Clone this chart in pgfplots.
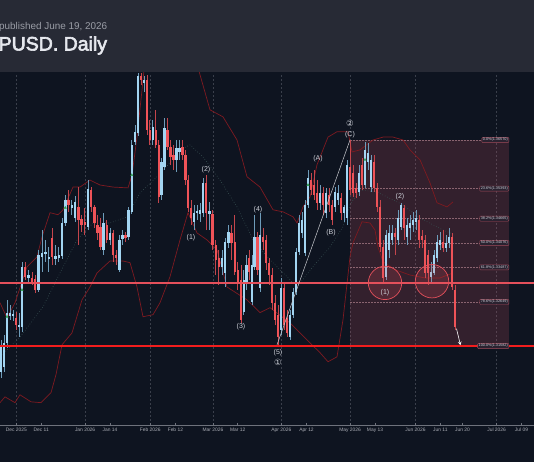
\documentclass[border=0pt]{standalone}
\usepackage{pgfplots}
\pgfplotsset{compat=1.18}
\usepackage{pgfplotstable}
\usepackage{fontspec}
\setmainfont{Liberation Sans}
\newfontfamily\titlefont[FakeBold=3]{Liberation Sans}
\newfontfamily\symfont{DejaVu Sans}

\definecolor{chartbg}{HTML}{0E1420}
\definecolor{headbg}{HTML}{272A35}
\definecolor{gridc}{HTML}{3A3F4B}
\definecolor{axisc}{HTML}{6E727C}
\definecolor{ticktxt}{HTML}{A9ACB4}
\definecolor{bullc}{HTML}{A3D5F2}
\definecolor{bullw}{HTML}{6E9CBA}
\definecolor{bearc}{HTML}{EF5358}
\definecolor{bearw}{HTML}{C4454C}
\definecolor{bandc}{HTML}{7E1A20}
\definecolor{midc}{HTML}{3A5555}
\definecolor{lineA}{HTML}{E4505B}
\definecolor{lineB}{HTML}{F21D1D}
\definecolor{fibc}{HTML}{C85064}
\definecolor{fibline}{HTML}{8A6470}
\definecolor{fibbox}{HTML}{2A2230}
\definecolor{fibedge}{HTML}{A04A5A}
\definecolor{lbl}{HTML}{CDD0D8}
\definecolor{subtxt}{HTML}{9A9DA6}
\definecolor{titletxt}{HTML}{E6E8EE}
\definecolor{greenm}{HTML}{2E9E4F}
\definecolor{abcc}{HTML}{C8CACF}

\pgfplotstableread{
x o h l c
1 1.3096 1.3173 1.3081 1.3161
4 1.3108 1.3185 1.3096 1.3166
7 1.3166 1.3270 1.3154 1.3239
10 1.3231 1.3258 1.3222 1.3239
13 1.3231 1.3246 1.3219 1.3236
19 1.3205 1.3239 1.3180 1.3209
22 1.3205 1.3362 1.3192 1.3350
28.7 1.3323 1.3343 1.3314 1.3330
38.7 1.3294 1.3391 1.3289 1.3379
42 1.3374 1.3439 1.3338 1.3384
45.3 1.3381 1.3415 1.3362 1.3386
48.7 1.3369 1.3398 1.3338 1.3374
55.3 1.3369 1.3403 1.3355 1.3376
58.7 1.3372 1.3398 1.3362 1.3379
62 1.3376 1.3468 1.3369 1.3456
65.3 1.3456 1.3524 1.3449 1.3512
71.8 1.3493 1.3512 1.3476 1.3500
75 1.3468 1.3522 1.3459 1.3507
88 1.3447 1.3560 1.3439 1.3539
103.6 1.3391 1.3481 1.3379 1.3456
109.9 1.3415 1.3444 1.3403 1.3432
119.3 1.3343 1.3427 1.3338 1.3415
122.4 1.3418 1.3439 1.3403 1.3427
128.6 1.3422 1.3495 1.3415 1.3488
131.8 1.3483 1.3657 1.3478 1.3645
134.9 1.3652 1.3693 1.3645 1.3677
138 1.3674 1.3819 1.3667 1.3812
143.9 1.3795 1.3812 1.3773 1.3802
152.8 1.3657 1.3705 1.3645 1.3689
161.6 1.3524 1.3614 1.3512 1.3604
164.6 1.3592 1.3710 1.3585 1.3686
176.4 1.3609 1.3657 1.3580 1.3638
179.4 1.3628 1.3657 1.3609 1.3638
194.2 1.3459 1.3500 1.3439 1.3481
197.1 1.3481 1.3500 1.3464 1.3485
200.1 1.3478 1.3505 1.3459 1.3488
203 1.3481 1.3565 1.3471 1.3553
209.3 1.3478 1.3507 1.3439 1.3485
222 1.3350 1.3391 1.3330 1.3372
225.2 1.3335 1.3420 1.3301 1.3410
228.3 1.3408 1.3451 1.3396 1.3434
243.7 1.3241 1.3343 1.3234 1.3318
246.4 1.3314 1.3379 1.3294 1.3355
251.9 1.3265 1.3379 1.3258 1.3355
254.6 1.3350 1.3476 1.3343 1.3422
260 1.3299 1.3481 1.3289 1.3427
281 1.3197 1.3323 1.3185 1.3299
290 1.3180 1.3246 1.3173 1.3234
293 1.3234 1.3299 1.3226 1.3289
296 1.3289 1.3396 1.3282 1.3386
299 1.3386 1.3476 1.3379 1.3456
302 1.3432 1.3483 1.3420 1.3464
305 1.3384 1.3512 1.3376 1.3500
308 1.3500 1.3585 1.3493 1.3565
320 1.3505 1.3548 1.3488 1.3529
326 1.3481 1.3541 1.3468 1.3529
335 1.3495 1.3543 1.3483 1.3531
338 1.3512 1.3548 1.3500 1.3529
344 1.3481 1.3500 1.3459 1.3495
347 1.3468 1.3609 1.3451 1.3597
359 1.3531 1.3597 1.3522 1.3577
365 1.3548 1.3652 1.3541 1.3633
368 1.3604 1.3650 1.3585 1.3626
371 1.3543 1.3621 1.3531 1.3609
386 1.3326 1.3439 1.3318 1.3427
389 1.3391 1.3451 1.3372 1.3432
392 1.3415 1.3451 1.3403 1.3432
398 1.3415 1.3488 1.3403 1.3468
401 1.3447 1.3505 1.3439 1.3500
407 1.3422 1.3468 1.3403 1.3451
410 1.3444 1.3476 1.3415 1.3456
413 1.3451 1.3483 1.3434 1.3464
416 1.3459 1.3488 1.3439 1.3468
431 1.3326 1.3362 1.3311 1.3338
434 1.3335 1.3391 1.3330 1.3379
437 1.3372 1.3427 1.3362 1.3410
440 1.3403 1.3434 1.3391 1.3415
446 1.3396 1.3427 1.3386 1.3408
449 1.3408 1.3444 1.3396 1.3422
}\bulltab

\pgfplotstableread{
x o h l c
16 1.3226 1.3241 1.3197 1.3209
25.3 1.3350 1.3362 1.3318 1.3326
32 1.3323 1.3338 1.3306 1.3314
35.3 1.3320 1.3330 1.3287 1.3294
52 1.3420 1.3444 1.3355 1.3374
68.5 1.3512 1.3536 1.3483 1.3500
78.3 1.3495 1.3543 1.3403 1.3464
81.5 1.3466 1.3476 1.3434 1.3451
84.8 1.3459 1.3493 1.3427 1.3451
91.1 1.3536 1.3543 1.3483 1.3495
94.3 1.3495 1.3500 1.3444 1.3456
97.4 1.3451 1.3476 1.3415 1.3432
100.5 1.3447 1.3468 1.3391 1.3398
106.8 1.3451 1.3464 1.3408 1.3415
113 1.3432 1.3439 1.3362 1.3379
116.1 1.3379 1.3391 1.3355 1.3372
125.5 1.3427 1.3434 1.3410 1.3420
141 1.3812 1.3819 1.3790 1.3802
146.9 1.3802 1.3814 1.3669 1.3681
149.8 1.3681 1.3705 1.3645 1.3657
155.7 1.3681 1.3730 1.3638 1.3645
158.7 1.3645 1.3657 1.3505 1.3519
167.5 1.3681 1.3710 1.3633 1.3640
170.5 1.3640 1.3657 1.3597 1.3616
173.5 1.3621 1.3645 1.3585 1.3609
182.3 1.3640 1.3657 1.3609 1.3621
185.3 1.3621 1.3633 1.3548 1.3560
188.2 1.3560 1.3572 1.3483 1.3493
191.2 1.3493 1.3512 1.3451 1.3468
206.2 1.3553 1.3572 1.3439 1.3481
212.5 1.3478 1.3488 1.3391 1.3403
215.7 1.3403 1.3415 1.3330 1.3367
218.8 1.3372 1.3391 1.3306 1.3350
231.5 1.3432 1.3451 1.3367 1.3408
234.7 1.3410 1.3476 1.3330 1.3338
237.8 1.3343 1.3362 1.3294 1.3311
241 1.3318 1.3355 1.3214 1.3222
249.1 1.3372 1.3391 1.3318 1.3338
257.3 1.3422 1.3434 1.3330 1.3343
263 1.3422 1.3444 1.3391 1.3410
266 1.3415 1.3427 1.3343 1.3360
269 1.3360 1.3372 1.3306 1.3330
272 1.3330 1.3347 1.3246 1.3263
275 1.3263 1.3282 1.3209 1.3222
278 1.3234 1.3258 1.3161 1.3180
284 1.3299 1.3311 1.3197 1.3209
287 1.3226 1.3246 1.3180 1.3190
311 1.3560 1.3577 1.3524 1.3536
314 1.3548 1.3585 1.3512 1.3524
317 1.3529 1.3560 1.3488 1.3505
323 1.3529 1.3543 1.3476 1.3500
329 1.3524 1.3541 1.3483 1.3500
332 1.3500 1.3512 1.3451 1.3464
341 1.3517 1.3529 1.3464 1.3481
350 1.3592 1.3657 1.3524 1.3536
353 1.3577 1.3597 1.3519 1.3529
356 1.3541 1.3553 1.3517 1.3529
362 1.3597 1.3614 1.3536 1.3548
374 1.3604 1.3621 1.3531 1.3541
377 1.3541 1.3553 1.3483 1.3495
380 1.3495 1.3512 1.3386 1.3398
383 1.3398 1.3415 1.3314 1.3323
395 1.3432 1.3444 1.3379 1.3422
404 1.3493 1.3500 1.3415 1.3444
419 1.3464 1.3476 1.3396 1.3415
422 1.3425 1.3439 1.3396 1.3415
425 1.3415 1.3427 1.3323 1.3335
428 1.3379 1.3391 1.3306 1.3335
443 1.3410 1.3439 1.3386 1.3396
452 1.3422 1.3432 1.3294 1.3301
455 1.3294 1.3306 1.3197 1.3205
}\beartab

\pgfplotstableread{
x p
0 1.3263
7 1.3226
15 1.3263
27 1.3350
37 1.3374
42 1.3422
50 1.3481
58 1.3476
63 1.3488
73 1.3543
80 1.3543
90 1.3560
100 1.3548
113 1.3543
128 1.3541
132 1.3572
137 1.3664
142 1.3778
146 1.3875
160 1.3923
178 1.3928
192 1.3887
200 1.3815
210 1.3730
223 1.3713
237 1.3657
247 1.3568
260 1.3543
273 1.3488
283 1.3483
293 1.3471
297 1.3456
303 1.3495
310 1.3519
317 1.3597
328 1.3664
337 1.3677
348 1.3677
352 1.3628
360 1.3633
373 1.3657
383 1.3664
393 1.3664
403 1.3657
410 1.3633
420 1.3609
430 1.3553
437 1.3505
447 1.3495
453 1.3507
}\bbup

\pgfplotstableread{
x p
0 1.3132
20 1.3180
43 1.3253
60 1.3335
77 1.3415
93 1.3456
110 1.3456
127 1.3471
140 1.3529
157 1.3568
170 1.3602
180 1.3633
190 1.3645
203 1.3616
220 1.3560
237 1.3495
253 1.3415
270 1.3367
287 1.3326
297 1.3301
313 1.3350
330 1.3398
343 1.3447
350 1.3500
360 1.3536
377 1.3531
403 1.3500
420 1.3468
443 1.3439
455 1.3427
}\bbmid

\pgfplotstableread{
x p
0 1.3021
5 1.3035
15 1.3021
20 1.3040
31 1.3023
41 1.3021
51 1.3045
56 1.3089
62 1.3161
72 1.3190
82 1.3270
90 1.3301
97 1.3335
110 1.3364
123 1.3364
130 1.3360
137 1.3301
143 1.3229
153 1.3234
160 1.3263
170 1.3326
180 1.3415
188 1.3481
197 1.3432
207 1.3415
217 1.3391
227 1.3301
247 1.3270
260 1.3239
270 1.3251
290 1.3214
307 1.3173
320 1.3142
328 1.3120
337 1.3132
343 1.3222
350 1.3374
353 1.3408
362 1.3459
370 1.3456
375 1.3439
378 1.3398
383 1.3362
395 1.3343
410 1.3330
425 1.3323
440 1.3323
453 1.3335
}\bblow

\begin{document}
\begin{tikzpicture}[x=1pt,y=1pt]
\useasboundingbox (0pt,0pt) rectangle (534pt,462pt);
\fill[chartbg] (0pt,0pt) rectangle (534pt,462pt);
\fill[headbg] (0pt,389.6pt) rectangle (534pt,462pt);
\node[anchor=base west, inner sep=0, font=\fontsize{9.9}{11}\selectfont, text=subtxt] at (-1pt,432.5pt) {published June 19, 2026};
\node[anchor=base west, inner sep=0, font=\titlefont\fontsize{19.5}{22}\selectfont, text=titletxt] at (-1.5pt,411.5pt) {PUSD. Daily};
\begin{axis}[
  at={(0pt,37pt)}, anchor=south west,
  scale only axis, width=534pt, height=352pt,
  xmin=0, xmax=534, ymin=1.29669, ymax=1.38192,
  enlargelimits=false,
  axis x line*=bottom, axis y line=none, ytick=\empty,
  x axis line style={draw=axisc, line width=0.8pt, -},
  xtick={41.2,110,175.4,237.7,306.5,375,440.4,462.5,521.5},
  xticklabels={Dec 11,Jan 14,Feb 12,Mar 12,Apr 12,May 13,Jun 11,Jun 20,Jul 09},
  extra x ticks={16.3,85.1,150.2,212.9,281.3,350.1,415.5,496.6},
  extra x tick labels={Dec 2025,Jan 2026,Feb 2026,Mar 2026,Apr 2026,May 2026,Jun 2026,Jul 2026},
  extra x tick style={grid=major},
  grid style={dash pattern=on 2pt off 2pt, draw=gridc, line width=0.6pt},
  tick align=inside, major tick length=2pt,
  tick style={draw=axisc, line width=0.6pt},
  xticklabel style={font=\fontsize{4.9}{5.5}\selectfont, text=ticktxt, inner sep=0pt, yshift=-3pt},
  clip=true,
]
% Fibonacci box
\fill[fibc, fill opacity=0.2] (axis cs:350,1.36570) rectangle (axis cs:509,1.31582);
\foreach \lv in {1.36570,1.35393,1.34665,1.34076,1.33487,1.32649}{
  \edef\tmp{\noexpand\draw[fibline, line width=0.5pt, dash pattern=on 1.5pt off 1.5pt] (axis cs:350,\lv) -- (axis cs:509,\lv);}\tmp
}
% Bollinger bands
\addplot[bandc, line width=0.7pt] table[x=x,y=p] {\bbup};
\addplot[bandc, line width=0.7pt] table[x=x,y=p] {\bblow};
\addplot[midc, line width=0.6pt, dotted] table[x=x,y=p] {\bbmid};
% candles: wicks
\addplot[forget plot, draw=none, mark=none, error bars/.cd, y dir=plus, y explicit, error mark=none,
  error bar style={draw=bullw, line width=0.7pt}]
  table[x=x, y=l, y error plus expr={\thisrow{h}-\thisrow{l}}] {\bulltab};
\addplot[forget plot, draw=none, mark=none, error bars/.cd, y dir=plus, y explicit, error mark=none,
  error bar style={draw=bearw, line width=0.7pt}]
  table[x=x, y=l, y error plus expr={\thisrow{h}-\thisrow{l}}] {\beartab};
% candles: bodies
\addplot[forget plot, draw=none, mark=none, error bars/.cd, y dir=plus, y explicit, error mark=none,
  error bar style={draw=bullc, line width=2.4pt}]
  table[x=x, y=o, y error plus expr={\thisrow{c}-\thisrow{o}}] {\bulltab};
\addplot[forget plot, draw=none, mark=none, error bars/.cd, y dir=plus, y explicit, error mark=none,
  error bar style={draw=bearc, line width=2.4pt}]
  table[x=x, y=c, y error plus expr={\thisrow{o}-\thisrow{c}}] {\beartab};
% green signal marks
\addplot[only marks, mark=triangle*, mark size=1.3pt, color=greenm] coordinates {(7,1.3229) (22,1.3294) (65.3,1.3493) (131.8,1.3572) (308,1.3548) (365,1.3609)};
% horizontal levels
\addplot[lineA, line width=1.6pt] coordinates {(0,1.3311) (534,1.3311)};
\addplot[lineB, line width=1.4pt] coordinates {(0,1.31582) (534,1.31582)};
% ABC line and arrow
\addplot[abcc, line width=0.5pt] coordinates {(277,1.3161) (350,1.3657)};
\addplot[white, line width=0.6pt, -stealth] coordinates {(456.5,1.3200) (460.5,1.3160)};
% circles
\draw[lineA, fill=lineA, fill opacity=0.18, line width=0.7pt] (axis cs:385,1.3311) circle[radius=16.7pt];
\draw[lineA, fill=lineA, fill opacity=0.18, line width=0.7pt] (axis cs:432,1.3315) circle[radius=16.7pt];
% wave labels
\begin{scope}[every node/.style={text=lbl, font=\fontsize{7}{8}\selectfont, inner sep=0pt}]
\node at (axis cs:191,1.3420) {(1)};
\node at (axis cs:206,1.3585) {(2)};
\node at (axis cs:241,1.3205) {(3)};
\node at (axis cs:258,1.3488) {(4)};
\node at (axis cs:278,1.3142) {(5)};
\node[font=\symfont\fontsize{8.5}{9}\selectfont] at (axis cs:278,1.3118) {①};
\node at (axis cs:318,1.3611) {(A)};
\node at (axis cs:331,1.3432) {(B)};
\node[font=\symfont\fontsize{8.5}{9}\selectfont] at (axis cs:350,1.3698) {②};
\node at (axis cs:350,1.3669) {(C)};
\node at (axis cs:385,1.3287) {(1)};
\node at (axis cs:400,1.3519) {(2)};
\end{scope}
% fib labels
\begin{scope}[every node/.style={anchor=east, fill=fibbox, draw=fibedge, line width=0.4pt, rounded corners=0.8pt, text=lbl, font=\fontsize{3.8}{4}\selectfont, inner xsep=1pt, inner ysep=0.8pt}]
\node at (axis cs:509,1.36570) {0.0\%(1.36570)};
\node at (axis cs:509,1.35393) {23.6\%(1.35393)};
\node at (axis cs:509,1.34665) {38.2\%(1.34665)};
\node at (axis cs:509,1.34076) {50.0\%(1.34076)};
\node at (axis cs:509,1.33487) {61.8\%(1.33487)};
\node at (axis cs:509,1.32649) {78.6\%(1.32649)};
\node at (axis cs:509,1.31582) {100.0\%(1.31582)};
\end{scope}
\end{axis}
\end{tikzpicture}
\end{document}
